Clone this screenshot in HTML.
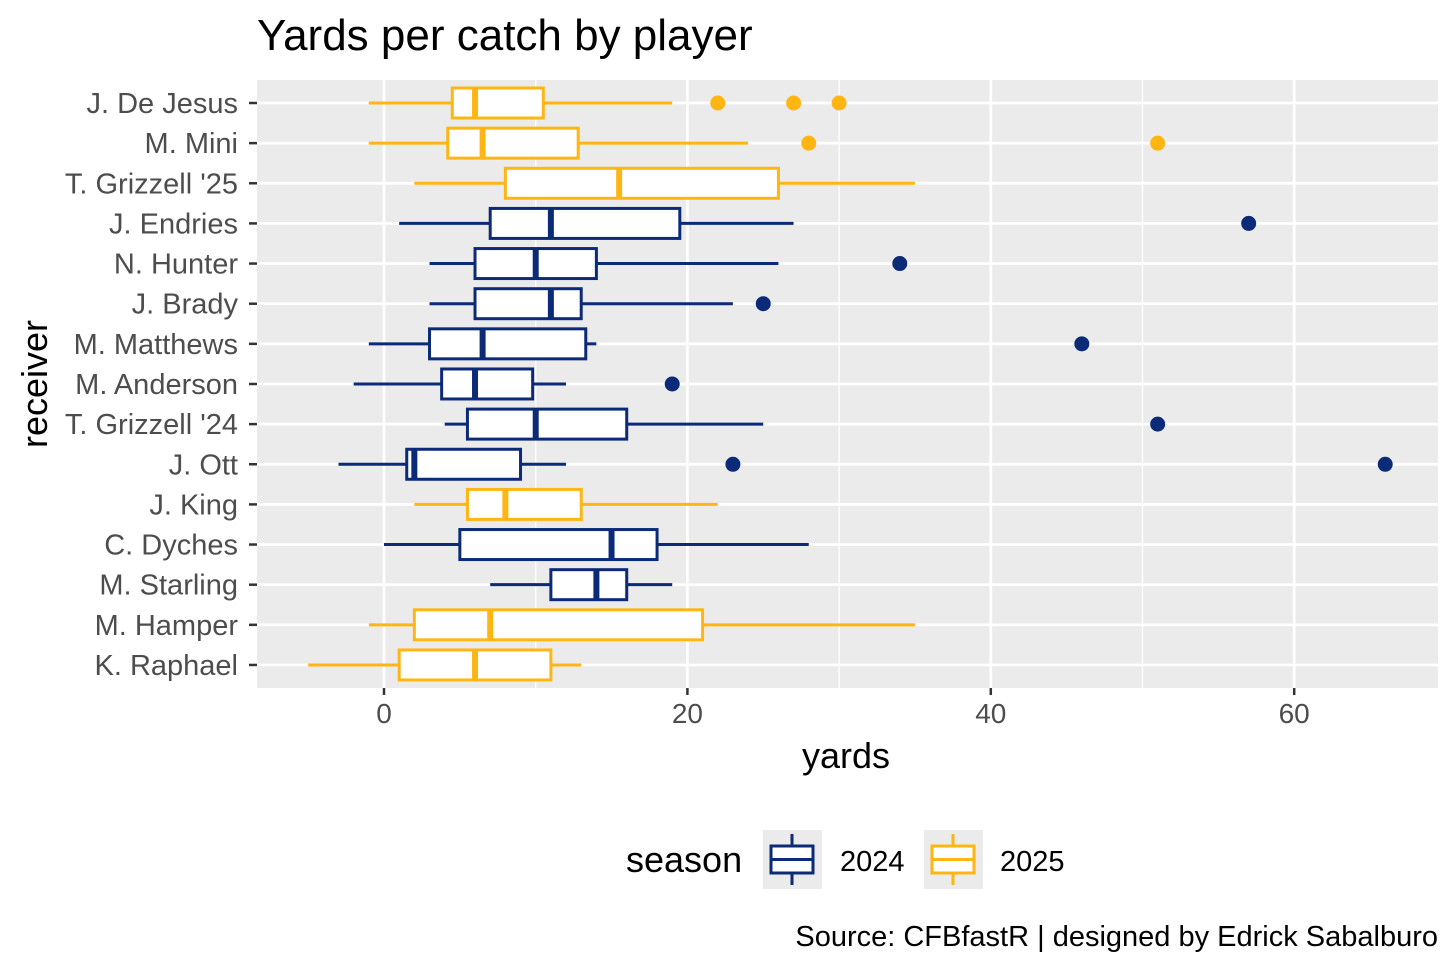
<!DOCTYPE html>
<html><head><meta charset="utf-8"><style>
body{margin:0;background:#fff;}
svg{display:block;font-family:"Liberation Sans",Arial,sans-serif;}
</style></head><body>
<svg id="chart" width="1456" height="971" viewBox="0 0 1456 971">
<rect width="1456" height="971" fill="#fff"/>
<text x="257" y="50" font-size="44" fill="#000">Yards per catch by player</text>
<rect x="257" y="80" width="1181" height="608" fill="#ebebeb"/>
<g id="grid"></g><g id="marks"></g><g id="axes"></g>
<text x="846" y="768" font-size="36" text-anchor="middle" fill="#000">yards</text>
<text transform="translate(47,384) rotate(-90)" font-size="36" text-anchor="middle" fill="#000">receiver</text>
<g>
<text x="626" y="872" font-size="36" fill="#000">season</text>
<g>
<rect x="763" y="830" width="59" height="59" fill="#ebebeb"/>
<line x1="792" y1="834" x2="792" y2="885" stroke="#0b2a78" stroke-width="3"/>
<rect x="771" y="846" width="42" height="27" fill="#fff" stroke="#0b2a78" stroke-width="3"/>
<line x1="771" y1="859.5" x2="813" y2="859.5" stroke="#0b2a78" stroke-width="3"/>
<text x="840" y="871" font-size="29" fill="#000">2024</text></g>
<g>
<rect x="924" y="830" width="59" height="59" fill="#ebebeb"/>
<line x1="953" y1="834" x2="953" y2="885" stroke="#ffb612" stroke-width="3"/>
<rect x="932" y="846" width="42" height="27" fill="#fff" stroke="#ffb612" stroke-width="3"/>
<line x1="932" y1="859.5" x2="974" y2="859.5" stroke="#ffb612" stroke-width="3"/>
<text x="1000" y="871" font-size="29" fill="#000">2025</text></g>
</g>
<text x="1438" y="946" font-size="29" text-anchor="end" fill="#000">Source: CFBfastR | designed by Edrick Sabalburo</text>
</svg>
<script>
const receivers=["J. De Jesus","M. Mini","T. Grizzell '25","J. Endries","N. Hunter","J. Brady","M. Matthews","M. Anderson","T. Grizzell '24","J. Ott","J. King","C. Dyches","M. Starling","M. Hamper","K. Raphael"];
const seasons=[2025,2025,2025,2024,2024,2024,2024,2024,2024,2024,2025,2024,2024,2025,2025];
const whiskerLow=[-1,-1,2,1,3,3,-1,-2,4,-3,2,0,7,-1,-5];
const q1=[4.5,4.2,8,7,6,6,3,3.8,5.5,1.5,5.5,5,11,2,1];
const medians=[6,6.5,15.5,11,10,11,6.5,6,10,2,8,15,14,7,6];
const q3=[10.5,12.8,26,19.5,14,13,13.3,9.8,16,9,13,18,16,21,11];
const whiskerHigh=[19,24,35,27,26,23,14,12,25,12,22,28,19,35,13];
const outliers=[[22,27,30],[28,51],[],[57],[34],[25],[46],[19],[51],[23,66],[],[],[],[],[]];
const xTicks=[0,20,40,60];
const xMinor=[10,30,50,70];
const NS="http://www.w3.org/2000/svg";
const x=v=>384+v*15.17;
const y=i=>103+i*40.14;
const col=s=>s===2024?"#0b2a78":"#ffb612";
function mk(tag,attrs,parent){const e=document.createElementNS(NS,tag);for(const k in attrs)e.setAttribute(k,attrs[k]);parent.appendChild(e);return e;}
const grid=document.getElementById('grid'),marks=document.getElementById('marks'),axes=document.getElementById('axes');
xMinor.forEach(v=>{if(x(v)<1438){const l=mk('line',{x1:x(v),x2:x(v),y1:80,y2:688,stroke:'#fff','stroke-width':1.3},grid);

}});
xTicks.forEach(v=>{const l=mk('line',{x1:x(v),x2:x(v),y1:80,y2:688,stroke:'#fff','stroke-width':2.7},grid);


const t=mk('line',{x1:x(v),x2:x(v),y1:688,y2:695,stroke:'#333','stroke-width':2.5},axes);


const tx=mk('text',{x:x(v),y:723,'font-size':28,'text-anchor':'middle',fill:'#4d4d4d'},axes);tx.textContent=v;

});
receivers.forEach((r,i)=>{const yy=y(i);
const gl=mk('line',{x1:257,x2:1438,y1:yy,y2:yy,stroke:'#fff','stroke-width':2.7},grid);


const t=mk('line',{x1:249,x2:257,y1:yy,y2:yy,stroke:'#333','stroke-width':2.5},axes);


const tx=mk('text',{x:238,y:yy+10,'font-size':29,'text-anchor':'end',fill:'#4d4d4d'},axes);tx.textContent=r;


const c=col(seasons[i]);
const g=mk('g',{},marks);


mk('line',{x1:x(whiskerLow[i]),x2:x(q1[i]),y1:yy,y2:yy,stroke:c,'stroke-width':3},g);
mk('line',{x1:x(q3[i]),x2:x(whiskerHigh[i]),y1:yy,y2:yy,stroke:c,'stroke-width':3},g);
mk('rect',{x:x(q1[i]),y:yy-15,width:x(q3[i])-x(q1[i]),height:30,fill:'#fff',stroke:c,'stroke-width':3},g);
mk('line',{x1:x(medians[i]),x2:x(medians[i]),y1:yy-15,y2:yy+15,stroke:c,'stroke-width':6},g);
outliers[i].forEach(o=>{const p=mk('circle',{cx:x(o),cy:yy,r:7.5,fill:c},marks);

});
});
</script>
</body></html>
